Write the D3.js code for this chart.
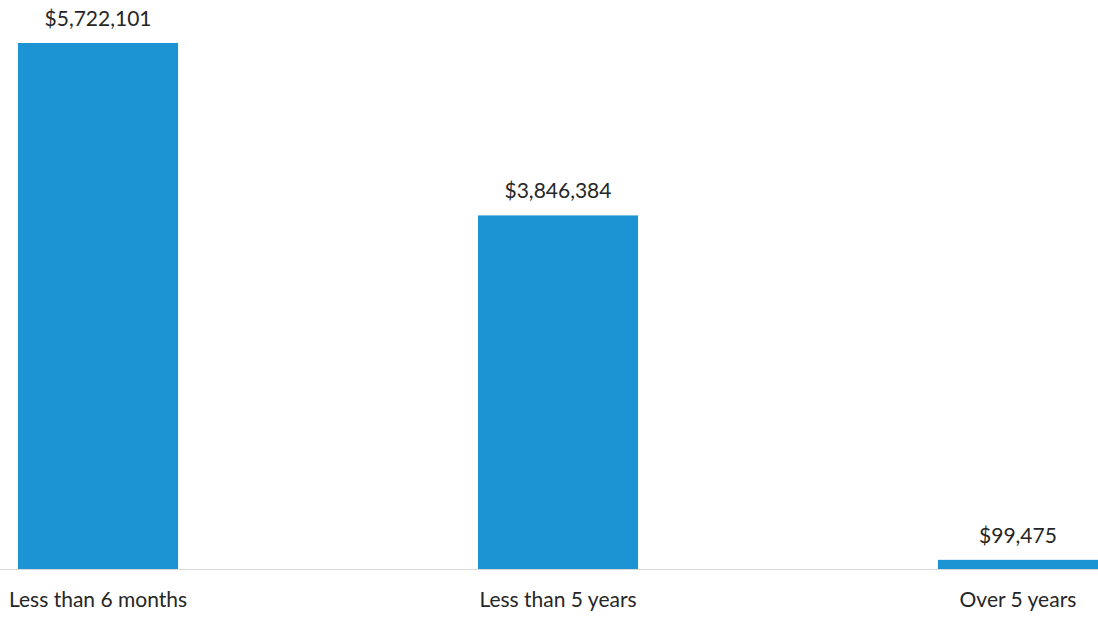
<!DOCTYPE html>
<html>
<head>
<meta charset="utf-8">
<script src="https://cdn.jsdelivr.net/npm/d3@7"></script>
<style>
  body { margin: 0; background: #fff; }
  text { font-family: Lato, "Open Sans", sans-serif; fill: #262626; }
</style>
</head>
<body>
<svg width="1098" height="618"></svg>
<script>
const categories = ["Less than 6 months", "Less than 5 years", "Over 5 years"];
const values = [5722101, 3846384, 99475];
const valueLabels = ["$5,722,101", "$3,846,384", "$99,475"];

const svg = d3.select("svg");
const width = +svg.attr("width");
const baseY = 569;

const data = categories.map((c, i) => ({ cat: c, value: values[i], label: valueLabels[i] }));

const x = d3.scaleBand().domain(categories).range([18, 1098]).paddingInner(0.652).paddingOuter(0);
const y = d3.scaleLinear().domain([0, 5722101]).range([baseY, 43]);

// baseline
svg.append("line")
  .attr("x1", 0).attr("x2", width)
  .attr("y1", baseY + 0.5).attr("y2", baseY + 0.5)
  .attr("stroke", "#d9d9d9")
  .attr("stroke-width", 1);

svg.selectAll(".bar")
  .data(data)
  .enter().append("rect")
  .attr("class", "bar")
  .attr("x", d => x(d.cat))
  .attr("y", d => y(d.value))
  .attr("width", x.bandwidth())
  .attr("height", d => baseY - y(d.value))
  .attr("fill", "#1c93d3");

svg.selectAll(".val")
  .data(data)
  .enter().append("text")
  .attr("class", "val")
  .attr("x", d => x(d.cat) + x.bandwidth() / 2)
  .attr("y", d => y(d.value) - 17)
  .attr("text-anchor", "middle")
  .attr("font-size", 21)
  .text(d => d.label);

svg.selectAll(".cat")
  .data(data)
  .enter().append("text")
  .attr("class", "cat")
  .attr("x", d => x(d.cat) + x.bandwidth() / 2)
  .attr("y", 607)
  .attr("text-anchor", "middle")
  .attr("font-size", 21)
  .text(d => d.cat);
</script>
</body>
</html>
